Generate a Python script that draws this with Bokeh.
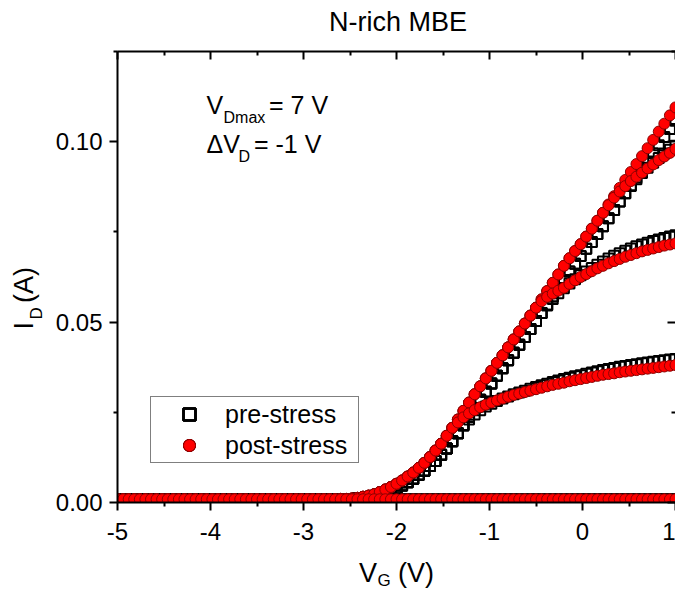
import math
from bokeh.plotting import figure
from bokeh.models import Range1d, LinearAxis, FixedTicker, Label
from bokeh.embed import file_html
from bokeh.resources import INLINE

# ---------------- data ----------------
vg = [-5.00, -4.94, -4.88, -4.82, -4.76, -4.70, -4.64, -4.58, -4.52, -4.46,
      -4.40, -4.34, -4.28, -4.22, -4.16, -4.10, -4.04, -3.98, -3.92, -3.86,
      -3.80, -3.74, -3.68, -3.62, -3.56, -3.50, -3.44, -3.38, -3.32, -3.26,
      -3.20, -3.14, -3.08, -3.02, -2.96, -2.90, -2.84, -2.78, -2.72, -2.66,
      -2.60, -2.54, -2.48, -2.42, -2.36, -2.30, -2.24, -2.18, -2.12, -2.06,
      -2.00, -1.94, -1.88, -1.82, -1.76, -1.70, -1.64, -1.58, -1.52, -1.46,
      -1.40, -1.34, -1.28, -1.22, -1.16, -1.10, -1.04, -0.98, -0.92, -0.86,
      -0.80, -0.74, -0.68, -0.62, -0.56, -0.50, -0.44, -0.38, -0.32, -0.26,
      -0.20, -0.14, -0.08, -0.02, 0.04, 0.10, 0.16, 0.22, 0.28, 0.34,
      0.40, 0.46, 0.52, 0.58, 0.64, 0.70, 0.76, 0.82, 0.88, 0.94,
      1.00]

# off state (V_G from -5.00 to -2.66), identical for every sweep
off_state = [0.0009, 0.0009, 0.0009, 0.0009, 0.0009, 0.0009, 0.0009, 0.0009, 0.0009, 0.0009,
             0.0009, 0.0009, 0.0009, 0.0009, 0.0009, 0.0009, 0.0009, 0.0009, 0.0009, 0.0009,
             0.0009, 0.0009, 0.0009, 0.0009, 0.0009, 0.0009, 0.0009, 0.0009, 0.0009, 0.0009,
             0.0009, 0.0009, 0.0009, 0.0009, 0.0009, 0.0009, 0.0009, 0.0009, 0.0009, 0.0009]

# post-stress sweeps (red circles), V_G from -2.60 to 1.00
post_a = off_state + [
    0.0010, 0.0010, 0.0011, 0.0013, 0.0016, 0.0019, 0.0023, 0.0029, 0.0036, 0.0043,
    0.0052, 0.0061, 0.0072, 0.0083, 0.0096, 0.0110, 0.0126, 0.0144, 0.0163, 0.0185,
    0.0207, 0.0230, 0.0254, 0.0277, 0.0300, 0.0322, 0.0344, 0.0365, 0.0387, 0.0408,
    0.0430, 0.0452, 0.0474, 0.0496, 0.0518, 0.0540, 0.0563, 0.0586, 0.0609, 0.0632,
    0.0656, 0.0677, 0.0697, 0.0716, 0.0737, 0.0759, 0.0781, 0.0803, 0.0826, 0.0849,
    0.0872, 0.0894, 0.0916, 0.0938, 0.0960, 0.0982, 0.1005, 0.1028, 0.1050, 0.1073,
    0.1095]
post_b = off_state + [
    0.0010, 0.0010, 0.0011, 0.0013, 0.0016, 0.0019, 0.0023, 0.0029, 0.0036, 0.0043,
    0.0052, 0.0061, 0.0072, 0.0083, 0.0096, 0.0110, 0.0126, 0.0144, 0.0163, 0.0185,
    0.0207, 0.0230, 0.0254, 0.0277, 0.0300, 0.0322, 0.0344, 0.0365, 0.0387, 0.0408,
    0.0430, 0.0452, 0.0474, 0.0496, 0.0518, 0.0540, 0.0563, 0.0586, 0.0609, 0.0632,
    0.0656, 0.0677, 0.0697, 0.0716, 0.0737, 0.0759, 0.0781, 0.0803, 0.0824, 0.0845,
    0.0862, 0.0877, 0.0891, 0.0903, 0.0914, 0.0926, 0.0937, 0.0949, 0.0959, 0.0969,
    0.0980]
post_c = off_state + [
    0.0010, 0.0010, 0.0011, 0.0013, 0.0016, 0.0019, 0.0023, 0.0029, 0.0036, 0.0043,
    0.0052, 0.0061, 0.0072, 0.0083, 0.0096, 0.0110, 0.0126, 0.0144, 0.0163, 0.0185,
    0.0207, 0.0230, 0.0254, 0.0277, 0.0300, 0.0322, 0.0344, 0.0365, 0.0387, 0.0408,
    0.0430, 0.0452, 0.0474, 0.0496, 0.0518, 0.0540, 0.0558, 0.0570, 0.0579, 0.0587,
    0.0595, 0.0606, 0.0616, 0.0625, 0.0633, 0.0641, 0.0649, 0.0656, 0.0663, 0.0669,
    0.0675, 0.0681, 0.0686, 0.0691, 0.0696, 0.0700, 0.0704, 0.0708, 0.0712, 0.0715,
    0.0718]
post_d = off_state + [
    0.0010, 0.0010, 0.0011, 0.0013, 0.0016, 0.0019, 0.0023, 0.0029, 0.0036, 0.0043,
    0.0052, 0.0061, 0.0072, 0.0083, 0.0096, 0.0110, 0.0126, 0.0144, 0.0163, 0.0185,
    0.0207, 0.0222, 0.0236, 0.0247, 0.0256, 0.0264, 0.0271, 0.0277, 0.0283, 0.0288,
    0.0293, 0.0298, 0.0302, 0.0306, 0.0310, 0.0314, 0.0318, 0.0322, 0.0326, 0.0329,
    0.0332, 0.0336, 0.0339, 0.0342, 0.0345, 0.0348, 0.0351, 0.0354, 0.0356, 0.0358,
    0.0361, 0.0363, 0.0365, 0.0367, 0.0369, 0.0371, 0.0373, 0.0375, 0.0377, 0.0379,
    0.0381]
post_e = off_state + [
    0.0009, 0.0009, 0.0009, 0.0009, 0.0009, 0.0009, 0.0009, 0.0009, 0.0009, 0.0009,
    0.0009, 0.0009, 0.0009, 0.0009, 0.0009, 0.0009, 0.0009, 0.0009, 0.0009, 0.0009,
    0.0009, 0.0009, 0.0009, 0.0009, 0.0009, 0.0009, 0.0009, 0.0009, 0.0009, 0.0009,
    0.0009, 0.0009, 0.0009, 0.0009, 0.0009, 0.0009, 0.0009, 0.0009, 0.0009, 0.0009,
    0.0009, 0.0009, 0.0009, 0.0009, 0.0009, 0.0009, 0.0009, 0.0009, 0.0009, 0.0009,
    0.0009, 0.0009, 0.0009, 0.0009, 0.0009, 0.0009, 0.0009, 0.0009, 0.0009, 0.0009,
    0.0009]

# pre-stress sweeps (black open squares), V_G from -2.60 to 1.00
pre_a = off_state + [
    0.0010, 0.0010, 0.0010, 0.0011, 0.0012, 0.0014, 0.0017, 0.0021, 0.0025, 0.0031,
    0.0039, 0.0047, 0.0056, 0.0066, 0.0077, 0.0088, 0.0101, 0.0115, 0.0132, 0.0150,
    0.0170, 0.0192, 0.0215, 0.0238, 0.0262, 0.0285, 0.0307, 0.0330, 0.0351, 0.0372,
    0.0394, 0.0415, 0.0437, 0.0459, 0.0481, 0.0503, 0.0525, 0.0548, 0.0571, 0.0594,
    0.0617, 0.0640, 0.0662, 0.0683, 0.0703, 0.0722, 0.0744, 0.0766, 0.0788, 0.0811,
    0.0834, 0.0857, 0.0879, 0.0901, 0.0923, 0.0945, 0.0968, 0.0990, 0.1013, 0.1035,
    0.1058]
pre_b = off_state + [
    0.0010, 0.0010, 0.0010, 0.0011, 0.0012, 0.0014, 0.0017, 0.0021, 0.0025, 0.0031,
    0.0039, 0.0047, 0.0056, 0.0066, 0.0077, 0.0088, 0.0101, 0.0115, 0.0132, 0.0150,
    0.0170, 0.0192, 0.0215, 0.0238, 0.0262, 0.0285, 0.0307, 0.0330, 0.0351, 0.0372,
    0.0394, 0.0415, 0.0437, 0.0459, 0.0481, 0.0503, 0.0525, 0.0548, 0.0571, 0.0594,
    0.0617, 0.0640, 0.0662, 0.0683, 0.0703, 0.0722, 0.0744, 0.0766, 0.0788, 0.0811,
    0.0834, 0.0857, 0.0877, 0.0896, 0.0913, 0.0928, 0.0942, 0.0955, 0.0967, 0.0978,
    0.0989]
pre_c = off_state + [
    0.0010, 0.0010, 0.0010, 0.0011, 0.0012, 0.0014, 0.0017, 0.0021, 0.0025, 0.0031,
    0.0039, 0.0047, 0.0056, 0.0066, 0.0077, 0.0088, 0.0101, 0.0115, 0.0132, 0.0150,
    0.0170, 0.0192, 0.0215, 0.0238, 0.0262, 0.0285, 0.0307, 0.0330, 0.0351, 0.0372,
    0.0394, 0.0415, 0.0437, 0.0459, 0.0481, 0.0503, 0.0525, 0.0546, 0.0564, 0.0580,
    0.0594, 0.0607, 0.0619, 0.0630, 0.0640, 0.0650, 0.0659, 0.0668, 0.0676, 0.0684,
    0.0691, 0.0698, 0.0704, 0.0710, 0.0715, 0.0720, 0.0725, 0.0729, 0.0733, 0.0737,
    0.0741]
pre_d = off_state + [
    0.0010, 0.0010, 0.0010, 0.0011, 0.0012, 0.0014, 0.0017, 0.0021, 0.0025, 0.0031,
    0.0039, 0.0047, 0.0056, 0.0066, 0.0077, 0.0088, 0.0101, 0.0115, 0.0132, 0.0150,
    0.0170, 0.0192, 0.0213, 0.0230, 0.0244, 0.0256, 0.0266, 0.0274, 0.0281, 0.0288,
    0.0294, 0.0300, 0.0305, 0.0310, 0.0315, 0.0320, 0.0325, 0.0329, 0.0334, 0.0338,
    0.0342, 0.0346, 0.0350, 0.0353, 0.0357, 0.0360, 0.0364, 0.0367, 0.0370, 0.0373,
    0.0376, 0.0378, 0.0381, 0.0383, 0.0386, 0.0388, 0.0390, 0.0392, 0.0394, 0.0396,
    0.0398]
pre_e = off_state + [
    0.0009, 0.0009, 0.0009, 0.0009, 0.0009, 0.0009, 0.0009, 0.0009, 0.0009, 0.0009,
    0.0009, 0.0009, 0.0009, 0.0009, 0.0009, 0.0009, 0.0009, 0.0009, 0.0009, 0.0009,
    0.0009, 0.0009, 0.0009, 0.0009, 0.0009, 0.0009, 0.0009, 0.0009, 0.0009, 0.0009,
    0.0009, 0.0009, 0.0009, 0.0009, 0.0009, 0.0009, 0.0009, 0.0009, 0.0009, 0.0009,
    0.0009, 0.0009, 0.0009, 0.0009, 0.0009, 0.0009, 0.0009, 0.0009, 0.0009, 0.0009,
    0.0009, 0.0009, 0.0009, 0.0009, 0.0009, 0.0009, 0.0009, 0.0009, 0.0009, 0.0009,
    0.0009]

x_ticks = [-5, -4, -3, -2, -1, 0, 1]
x_tick_labels = ["-5", "-4", "-3", "-2", "-1", "0", "1"]
x_minor = [-4.5, -3.5, -2.5, -1.5, -0.5, 0.5]
y_ticks = [0.0, 0.05, 0.10]
y_tick_labels = ["0.00", "0.05", "0.10"]
y_minor = [0.025, 0.075, 0.125]

pre_series = [pre_a, pre_b, pre_c, pre_d, pre_e]
post_series = [post_a, post_b, post_c, post_d, post_e]
for s in pre_series + post_series:
    assert len(s) == len(vg)

# ---------------- layout (page pixels; the page has no margin) ----------------
FONT = "Liberation Sans"
W_TOTAL, H_TOTAL = 675, 592
FL, FT = 117, 51          # frame left / top
FW, FH = 558, 451         # frame size
X0, X1 = -5.0, 1.0
Y0, Y1 = 0.0, 0.125
BASE_SHIFT = 0.37         # label anchor sits this many em above the drawn baseline


def dx(px):
    return X0 + (px - FL) / FW * (X1 - X0)


def dy(py):
    return Y0 + (FT + FH - py) / FH * (Y1 - Y0)


p = figure(width=W_TOTAL, height=H_TOTAL,
           min_border_left=FL, min_border_right=W_TOTAL - FL - FW,
           min_border_top=FT, min_border_bottom=H_TOTAL - FT - FH,
           x_range=Range1d(X0, X1), y_range=Range1d(Y0, Y1),
           output_backend="svg", toolbar_location=None)
p.grid.visible = False
p.outline_line_color = None
p.background_fill_color = "white"
p.border_fill_color = "white"


def style_ticks(ax, major_in, major_out, minor_in, minor_out):
    ax.axis_line_width = 2
    ax.axis_line_color = "black"
    ax.major_tick_line_width = 2
    ax.minor_tick_line_width = 2
    ax.major_tick_line_color = "black"
    ax.minor_tick_line_color = "black"
    ax.major_tick_in, ax.major_tick_out = major_in, major_out
    ax.minor_tick_in, ax.minor_tick_out = minor_in, minor_out
    ax.major_label_text_font = FONT
    ax.major_label_text_font_size = "24px"
    ax.major_label_text_color = "black"


xa = p.xaxis[0]
xa.ticker = FixedTicker(ticks=x_ticks, minor_ticks=x_minor)
xa.major_label_overrides = dict(zip(x_ticks, x_tick_labels))
style_ticks(xa, 0, 8, 0, 4)
xa.major_label_standoff = 12

ya = p.yaxis[0]
ya.ticker = FixedTicker(ticks=y_ticks, minor_ticks=y_minor)
ya.major_label_overrides = dict(zip(y_ticks, y_tick_labels))
style_ticks(ya, 0, 8, 0, 4)
ya.major_label_standoff = 7

# mirrored inward ticks on top and right (no labels: ticks given as "minor" ticks)
for place, majors, minors, keep_line in (("above", x_ticks, x_minor, True),
                                         ("right", y_ticks, y_minor, False)):
    ax_major = LinearAxis(ticker=FixedTicker(ticks=[], minor_ticks=majors))
    style_ticks(ax_major, 0, 0, 8, 0)
    if not keep_line:
        ax_major.axis_line_color = None
    p.add_layout(ax_major, place)
    ax_minor = LinearAxis(ticker=FixedTicker(ticks=[], minor_ticks=minors))
    style_ticks(ax_minor, 0, 0, 4, 0)
    ax_minor.axis_line_color = None
    p.add_layout(ax_minor, place)

# ---------------- data marks ----------------
for ys in pre_series:
    p.scatter(vg, ys, marker="square", size=10, fill_color=None,
              line_color="black", line_width=2, legend_label="pre-stress")
for ys in post_series:
    p.scatter(vg, ys, marker="circle", size=11, fill_color="#FF0000",
              line_color="#8B0000", line_width=1, legend_label="post-stress")

lg = p.legend[0]
lg.location = (150 - FL, FT + FH - 463)
lg.padding = 2
lg.spacing = 1
lg.margin = 0
lg.glyph_height = 30
lg.glyph_width = 72
lg.label_height = 30
lg.label_width = 131
lg.label_standoff = 0
lg.label_text_font = FONT
lg.label_text_font_size = "25px"
lg.label_text_color = "black"
lg.border_line_color = "black"
lg.border_line_width = 1
lg.background_fill_color = "white"
lg.background_fill_alpha = 1.0


# ---------------- texts ----------------
def inner_text(text, px, py, size):
    # inside the frame: screen units from the frame's lower left corner
    py = py - BASE_SHIFT * size
    p.add_layout(Label(x=px - FL, y=FT + FH - py, x_units="screen", y_units="screen",
                       text=text, text_font=FONT, text_font_size=f"{size}px",
                       text_color="black", text_align="left", text_baseline="alphabetic"))


def outer_text(text, px, py, size, place, align="left", rotated=False):
    # outside the frame: put in a side panel (not clipped), placed in data units
    if rotated:
        px = px - BASE_SHIFT * size
    else:
        py = py - BASE_SHIFT * size
    p.add_layout(Label(x=dx(px), y=dy(py), text=text, text_font=FONT,
                       text_font_size=f"{size}px", text_color="black",
                       text_align=align, text_baseline="alphabetic",
                       angle=math.pi / 2 if rotated else 0.0), place)


inner_text("V", 206, 113.3, 25)
inner_text("Dmax", 223, 122.7, 16)
inner_text("= 7 V", 268.5, 113.3, 25)
inner_text("\u0394V", 206, 152.7, 25)
inner_text("D", 238, 161.7, 16)
inner_text("= -1 V", 253.5, 152.7, 25)

outer_text("N-rich MBE", 397.5, 31, 27, "above", align="center")
outer_text("G", 377, 586.5, 17, "above")
outer_text("V\u2002\u00a0(V)", 358.5, 582, 27, "below")
outer_text("I\u2002\u2009(A)", 33.3, 329, 27, "left", rotated=True)
outer_text("D", 42, 319, 17, "left", rotated=True)

open("out.html", "w").write(file_html(p, INLINE))
